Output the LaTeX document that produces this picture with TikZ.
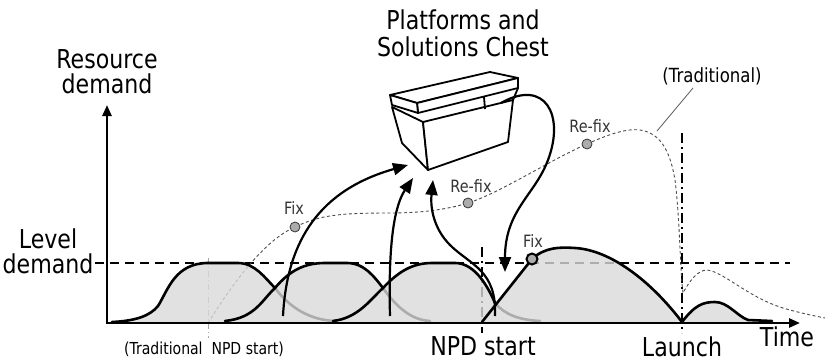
\documentclass[tikz,border=0pt]{standalone}
\usepackage{fontspec}
\setmainfont{DejaVu Sans}[FakeStretch=0.85]
\usetikzlibrary{arrows.meta}

\tikzset{
  big/.style={font=\fontsize{26}{25}\selectfont, inner sep=0pt, align=center},
  small/.style={font=\fontsize{17}{19}\selectfont, inner sep=0pt, text=black!80},
  phase/.style={line width=2.6pt, line join=round, line cap=round},
  tail/.style={line width=2.6pt, gray!65, line cap=round},
  trad/.style={gray!60!black, line width=0.9pt, dash pattern=on 3pt off 2.5pt},
  flow/.style={line width=2.2pt, -{Triangle[length=15pt,width=12pt]}},
  milestone/.style={line width=2pt, dash pattern=on 10pt off 4pt on 2pt off 4pt},
  fixdot/.style={circle, fill=gray!65, draw=gray!40!black, line width=0.8pt, inner sep=0pt, minimum size=10pt},
}

\begin{document}
\begin{tikzpicture}[x=1pt,y=-1pt]
\useasboundingbox (0,0) rectangle (825,361);

% level demand and milestones (drawn first, the phases go over them)
\draw[line width=2pt, dash pattern=on 9pt off 6pt] (95,263) -- (790,263);
\draw[milestone] (482,247) -- (482,333);
\draw[milestone] (682,133) -- (682,333);
\draw[gray!70, line width=0.8pt, dash pattern=on 6pt off 3pt on 1pt off 3pt] (208,258) -- (208,338);

% traditional resource curve
\draw[trad] (208,323) .. controls (235,280) and (265,240) .. (295,227)
  .. controls (320,215) and (340,213) .. (390,213)
  .. controls (420,213) and (445,210) .. (468,203)
  .. controls (500,193) and (550,160) .. (587,144)
  .. controls (605,136) and (625,128) .. (640,130)
  .. controls (660,133) and (670,150) .. (675,180)
  .. controls (680,220) and (680,270) .. (683,293)
  .. controls (690,280) and (698,270) .. (707,270)
  .. controls (725,272) and (750,300) .. (790,310)
  .. controls (805,314) and (815,316) .. (825,318);

% phases, one fill for all of them
\fill[black!15, fill opacity=0.8]
  (112,323) -- (112,322) .. controls (135,321) and (150,316) .. (158,306)
    .. controls (168,290) and (175,263) .. (208,263) -- (238,263)
    .. controls (255,263) and (265,278) .. (275,288)
    .. controls (290,308) and (310,320) .. (335,321) -- (335,323) -- cycle
  (225,323) -- (225,321) .. controls (255,318) and (262,300) .. (275,288)
    .. controls (290,270) and (305,263) .. (325,263) -- (347,263)
    .. controls (365,263) and (375,278) .. (383,288)
    .. controls (395,305) and (410,320) .. (430,321) -- (430,323) -- cycle
  (333,323) -- (333,321) .. controls (358,318) and (370,300) .. (383,288)
    .. controls (398,272) and (412,263) .. (432,263) -- (455,263)
    .. controls (472,263) and (485,280) .. (495,303)
    .. controls (505,315) and (520,320) .. (540,321) -- (540,323) -- cycle
  (482,323) -- (532,259) .. controls (545,247) and (560,247) .. (575,248)
    .. controls (610,250) and (650,280) .. (682,323) -- cycle
  (682,323) .. controls (695,305) and (703,302) .. (715,302)
    .. controls (728,302) and (737,316) .. (748,320) -- (772,321) -- (772,323) -- cycle;

\draw[tail] (275,288) .. controls (290,308) and (310,320) .. (335,321);
\draw[tail] (383,288) .. controls (395,305) and (410,320) .. (430,321);
\draw[tail] (495,303) .. controls (505,315) and (520,320) .. (540,321);

\draw[phase] (112,322) .. controls (135,321) and (150,316) .. (158,306)
    .. controls (168,290) and (175,263) .. (208,263) -- (238,263)
    .. controls (255,263) and (265,278) .. (275,288);
\draw[phase] (225,321) .. controls (255,318) and (262,300) .. (275,288)
    .. controls (290,270) and (305,263) .. (325,263) -- (347,263)
    .. controls (365,263) and (375,278) .. (383,288);
\draw[phase] (333,321) .. controls (358,318) and (370,300) .. (383,288)
    .. controls (398,272) and (412,263) .. (432,263) -- (455,263)
    .. controls (472,263) and (485,280) .. (495,303);
\draw[phase] (482,322) -- (532,259) .. controls (545,247) and (560,247) .. (575,248)
    .. controls (610,250) and (650,280) .. (682,322);
\draw[phase] (682,322) .. controls (695,305) and (703,302) .. (715,302)
    .. controls (728,302) and (737,316) .. (748,320) -- (772,321);

% axes
\coordinate (O) at (107,323);
\draw[line width=2.6pt, {Triangle[length=11pt,width=9pt]}-{Triangle[length=11pt,width=9pt]}]
  (107,105) -- (O) -- (800,323);

% fixes
\node[fixdot] (fix1) at (295,227) {};
\node[fixdot] (refix1) at (468,203) {};
\node[fixdot] (refix2) at (587,144) {};
\node[fixdot, draw=black, line width=2pt, minimum size=11pt] (fix2) at (532,259) {};
\node[small] (fixtext1) at (294,208) {Fix};
\node[small] (refixtext1) at (471,186) {Re-fix};
\node[small] (refixtext2) at (590,126) {Re-fix};
\node[small] (fixtext2) at (533,241) {Fix};

% the chest
\begin{scope}[line width=1.8pt, line join=round]
  \filldraw[fill=white] (392,107) -- (423,122) -- (428,170) -- (402,143) -- cycle;
  \filldraw[fill=white] (423,122) -- (513,100) -- (508,142) -- (428,170) -- cycle;
  \draw (484,97) -- (485,109);
  \draw (513,100) -- (518,88);
  \filldraw[fill=white] (390,95) -- (490,72) -- (518,78) -- (417,103) -- cycle;
  \filldraw[fill=white] (417,103) -- (518,78) -- (518,88) -- (418,113) -- cycle;
  \filldraw[fill=white] (390,95) -- (417,103) -- (418,113) -- (392,105) -- cycle;
\end{scope}

% solutions going in and out of the chest
\coordinate (out1) at (283,316);
\coordinate (in1) at (408,165);
\coordinate (out2) at (390,316);
\coordinate (in2) at (413,178);
\coordinate (out3) at (495,316);
\coordinate (in3) at (433,180);
\coordinate (lid) at (501,103);
\coordinate (reuse) at (505,272);
\draw[flow] (out1) .. controls (287,240) and (320,190) .. (in1);
\draw[flow] (out2) .. controls (388,240) and (395,205) .. (in2);
\draw[flow] (out3) .. controls (497,270) and (470,265) .. (450,245)
  .. controls (435,230) and (430,210) .. (in3);
\draw[flow] (lid) .. controls (545,78) and (565,115) .. (548,160)
  .. controls (535,195) and (505,210) .. (reuse);

% labels
\node[big] (chestlabel) at (463,33) {Platforms and\\[2pt]Solutions Chest};
\node[big] (ylabel) at (107,72) {Resource\\demand};
\node[big] (level) at (48,251) {Level\\demand};
\node[big] (time) at (787,337) {Time};
\node[big] (npd) at (483,346.5) {NPD start};
\node[big] (launch) at (682,346.5) {Launch};
\node[font=\fontsize{16.5}{18}\selectfont, inner sep=0pt] (tradstart) at (204,349) {(Traditional\ \ NPD start)};
\node[font=\fontsize{19.5}{21}\selectfont, inner sep=0pt] (tradlabel) at (712,76) {(Traditional)};
\coordinate (tradpoint) at (657,131);
\draw[gray!70!black, line width=0.8pt] (693,88) -- (tradpoint);
\end{tikzpicture}
\end{document}
